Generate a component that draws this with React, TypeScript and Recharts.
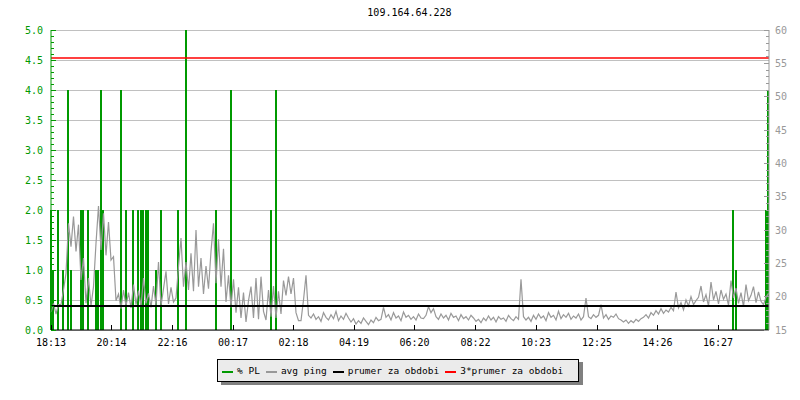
import { ComposedChart, Bar, Line, XAxis, YAxis, CartesianGrid, ReferenceLine } from 'recharts'

const TITLE = '109.164.64.228'

// sample every 5 minutes, starting at the first time label
const STEP_MIN = 5
const SPAN_MIN = 1436

const TIME_LABELS = [
  '18:13', '20:14', '22:16', '00:17', '02:18', '04:19',
  '06:20', '08:22', '10:23', '12:25', '14:26', '16:27',
]

// avg ping in ms (right axis)
const PING = [
  17.6, 19.0, 17.4, 18.8, 18.8, 21.0, 23.5, 31.0, 27.5, 32.0,
  26.8, 30.8, 22.5, 25.8, 19.0, 22.8, 18.6, 21.5, 28.0, 33.6,
  27.0, 32.5, 26.2, 31.2, 25.5, 26.0, 19.4, 20.4, 18.2, 21.0,
  18.6, 20.6, 18.3, 21.8, 18.8, 20.9, 18.5, 22.8, 19.0, 20.5,
  18.4, 21.6, 18.7, 25.2, 18.6, 21.2, 23.8, 18.9, 21.4, 19.2,
  19.8, 24.5, 28.8, 21.5, 25.2, 21.0, 26.5, 20.8, 30.0, 21.5,
  25.8, 20.4, 24.6, 21.2, 26.8, 31.0, 22.0, 28.6, 21.5, 27.2,
  19.2, 23.2, 18.4, 22.6, 17.6, 21.4, 16.8, 20.6, 16.2, 19.4,
  21.5, 16.8, 22.8, 16.6, 23.0, 17.8, 16.5, 21.0, 17.0, 21.6,
  16.8, 20.8, 17.4, 22.4, 20.2, 23.0, 20.4, 22.8, 17.6, 16.4,
  16.4, 19.5, 23.2, 17.2, 16.8, 17.4, 16.6, 17.0, 16.3, 17.6,
  16.9, 16.5, 17.3, 16.7, 17.8, 16.4, 17.1, 16.6, 17.5, 16.8,
  16.2, 16.7, 15.9, 16.4, 16.0, 16.8, 16.3, 15.8, 16.5, 16.1,
  16.9, 16.4, 16.6, 18.4, 16.9, 17.3, 16.5, 17.6, 16.8, 17.1,
  16.4, 17.7, 16.9, 17.2, 16.6, 17.0, 16.5, 17.4, 16.8, 16.7,
  17.2, 18.5, 17.6, 18.2, 17.0, 16.6, 17.4, 16.8, 17.2, 16.5,
  17.5, 16.9, 17.1, 16.4, 17.3, 16.7, 17.0, 16.5, 17.2, 16.8,
  16.3, 16.6, 16.1, 16.8, 16.4, 17.1, 16.5, 16.9, 16.2, 17.0,
  16.6, 16.8, 16.3, 17.2, 16.7, 16.4, 17.0, 16.6, 22.6, 17.0,
  16.5, 16.9, 16.3, 17.2, 16.6, 17.4, 16.8, 17.1, 16.4, 17.6,
  16.9, 17.2, 16.5, 17.8, 16.7, 17.3, 16.9, 17.5, 16.6, 17.1,
  16.8, 17.4, 16.5, 17.0, 19.8, 17.0, 16.7, 17.3, 16.9, 17.2,
  18.8, 16.8, 17.3, 16.6, 17.1, 16.9, 17.4, 16.7, 16.5, 16.2,
  16.5, 16.0, 16.4, 16.1, 16.6, 16.3, 16.7, 16.9, 17.3, 16.8,
  17.6, 17.2, 17.9, 17.4, 18.2, 17.5, 18.0, 17.7, 18.4, 17.9,
  20.7, 18.3, 19.1, 18.0, 19.5, 18.6, 20.0, 18.8, 19.4, 19.9,
  21.6, 19.2, 20.3, 18.6, 22.2, 19.5, 20.8, 18.9, 21.0, 19.6,
  20.4, 18.7, 22.4, 19.8, 21.3, 19.0, 20.6, 18.5, 21.8, 19.4,
  20.2, 21.5, 19.1, 20.7, 19.3, 18.8, 19.9, 20.5,
]

// packet loss spikes: sample index and % (left axis)
const PL_INDEX = [0, 1, 3, 5, 7, 8, 12, 13, 15, 18, 19, 20, 21, 28, 30, 33, 35, 36, 37, 38, 39, 42, 44, 51, 54, 66, 72, 88, 90, 273, 274, 286, 287]
const PL_VALUE = [2, 1, 2, 1, 4, 1, 2, 2, 2, 1, 1, 4, 2, 4, 2, 2, 2, 2, 2, 2, 2, 1, 2, 2, 5, 2, 4, 2, 4, 2, 1, 2, 4]

const PRUMER = 18.6

const LEFT_TICKS = [0, 0.5, 1, 1.5, 2, 2.5, 3, 3.5, 4, 4.5, 5]
const RIGHT_TICKS = [15, 20, 25, 30, 35, 40, 45, 50, 55, 60]

const GREEN = '#009900'
const GRAY = '#999999'
const FONT = '"DejaVu Sans Mono", monospace'
const PLOT_H = 300

const toMin = (s: string) => {
  const [h, m] = s.split(':').map(Number)
  return h * 60 + m
}
const START = toMin(TIME_LABELS[0])
const X_TICKS = TIME_LABELS.map(l => (toMin(l) - START + 1440) % 1440)

const plMap = new Map(PL_INDEX.map((i, k) => [i, PL_VALUE[k]]))
const rows = PING.map((p, i) => ({ t: i * STEP_MIN, ping: p, pl: plMap.get(i) ?? null }))

const LEFT_MAX = LEFT_TICKS[LEFT_TICKS.length - 1]
const RIGHT_MIN = RIGHT_TICKS[0]
const RIGHT_MAX = RIGHT_TICKS[RIGHT_TICKS.length - 1]

function LeftTick(props: any) {
  const { x, y, payload } = props
  const minor = PLOT_H / (LEFT_MAX * 10)
  const v = payload.value
  return (
    <g>
      <line x1={x} x2={x + 5} y1={y} y2={y} stroke={GREEN} shapeRendering="crispEdges" />
      {v > 0 && [1, 2, 3, 4].map(k => (
        <line key={k} x1={x} x2={x + 3} y1={y + k * minor} y2={y + k * minor} stroke={GREEN} shapeRendering="crispEdges" />
      ))}
      <text x={x - 8} y={y + 3.5} textAnchor="end" fill={GREEN} fontSize={10} fontFamily={FONT}>
        {v.toFixed(1)}
      </text>
    </g>
  )
}

function RightTick(props: any) {
  const { x, y, payload } = props
  const minor = PLOT_H / (RIGHT_MAX - RIGHT_MIN)
  const v = payload.value
  return (
    <g>
      <line x1={x} x2={x - 5} y1={y} y2={y} stroke={GRAY} shapeRendering="crispEdges" />
      {v > RIGHT_MIN && [1, 2, 3, 4].map(k => (
        <line key={k} x1={x} x2={x - 3} y1={y + k * minor} y2={y + k * minor} stroke={GRAY} shapeRendering="crispEdges" />
      ))}
      <text x={x + 6} y={y + 3.5} textAnchor="start" fill={GRAY} fontSize={10} fontFamily={FONT}>
        {v}
      </text>
    </g>
  )
}

function TimeTick(props: any) {
  const { x, y, index } = props
  return (
    <g>
      <line x1={x} x2={x} y1={y} y2={y - 5} stroke="#000" shapeRendering="crispEdges" />
      <text x={x} y={y + 16} textAnchor="middle" fill="#000" fontSize={10} fontFamily={FONT}>
        {TIME_LABELS[index]}
      </text>
    </g>
  )
}

const LEGEND = [
  { label: '% PL', color: GREEN },
  { label: 'avg ping', color: GRAY },
  { label: 'prumer za obdobi', color: '#000' },
  { label: '3*prumer za obdobi', color: '#ff0000' },
]

export default function App() {
  return (
    <div style={{ position: 'absolute', left: 0, top: 0, width: 800, height: 400, background: '#fff' }}>
      <div
        style={{
          position: 'absolute', left: 0, top: 8, width: 819, textAlign: 'center',
          fontFamily: FONT, fontSize: 10, lineHeight: '10px', color: '#000',
        }}
      >
        {TITLE}
      </div>
      <ComposedChart width={800} height={400} data={rows} margin={{ top: 30, right: 0, bottom: 50, left: 0 }}>
        <CartesianGrid yAxisId="left" vertical={false} stroke="#c0c0c0" shapeRendering="crispEdges" />
        <XAxis
          dataKey="t"
          type="number"
          domain={[0, SPAN_MIN]}
          ticks={X_TICKS}
          interval={0}
          height={20}
          tickSize={0}
          tickMargin={0}
          tickLine={false}
          axisLine={{ stroke: '#000' }}
          tick={(p: any) => <TimeTick {...p} />}
        />
        <YAxis
          yAxisId="left"
          domain={[0, LEFT_MAX]}
          ticks={LEFT_TICKS}
          interval={0}
          width={51}
          tickSize={0}
          tickMargin={0}
          tickLine={false}
          axisLine={{ stroke: GREEN }}
          tick={(p: any) => <LeftTick {...p} />}
        />
        <YAxis
          yAxisId="right"
          orientation="right"
          domain={[RIGHT_MIN, RIGHT_MAX]}
          ticks={RIGHT_TICKS}
          interval={0}
          width={31}
          tickSize={0}
          tickMargin={0}
          tickLine={false}
          axisLine={{ stroke: GRAY }}
          tick={(p: any) => <RightTick {...p} />}
        />
        <Bar yAxisId="left" dataKey="pl" fill={GREEN} barSize={2} shapeRendering="crispEdges" isAnimationActive={false} />
        <Line
          yAxisId="right"
          dataKey="ping"
          type="linear"
          stroke={GRAY}
          strokeWidth={1.2}
          dot={false}
          activeDot={false}
          isAnimationActive={false}
        />
        <ReferenceLine yAxisId="right" y={PRUMER} stroke="#000" strokeWidth={2} />
        <ReferenceLine yAxisId="right" y={PRUMER * 3} stroke="#ff0000" strokeWidth={1.5} />
      </ComposedChart>
      <div
        style={{
          position: 'absolute', left: 217, top: 359, width: 362, height: 23,
          border: '1px solid #000', background: '#ebebeb', boxShadow: '4px 3px 0 #808080',
          display: 'flex', alignItems: 'center', paddingLeft: 4, boxSizing: 'border-box',
          fontFamily: FONT, fontSize: 9.5, color: '#000', whiteSpace: 'nowrap',
        }}
      >
        {LEGEND.map(item => (
          <span key={item.label} style={{ display: 'inline-flex', alignItems: 'center', marginRight: 6 }}>
            <span style={{ display: 'inline-block', width: 11, height: 2, background: item.color, marginRight: 4, marginTop: 3 }} />
            {item.label}
          </span>
        ))}
      </div>
    </div>
  )
}
